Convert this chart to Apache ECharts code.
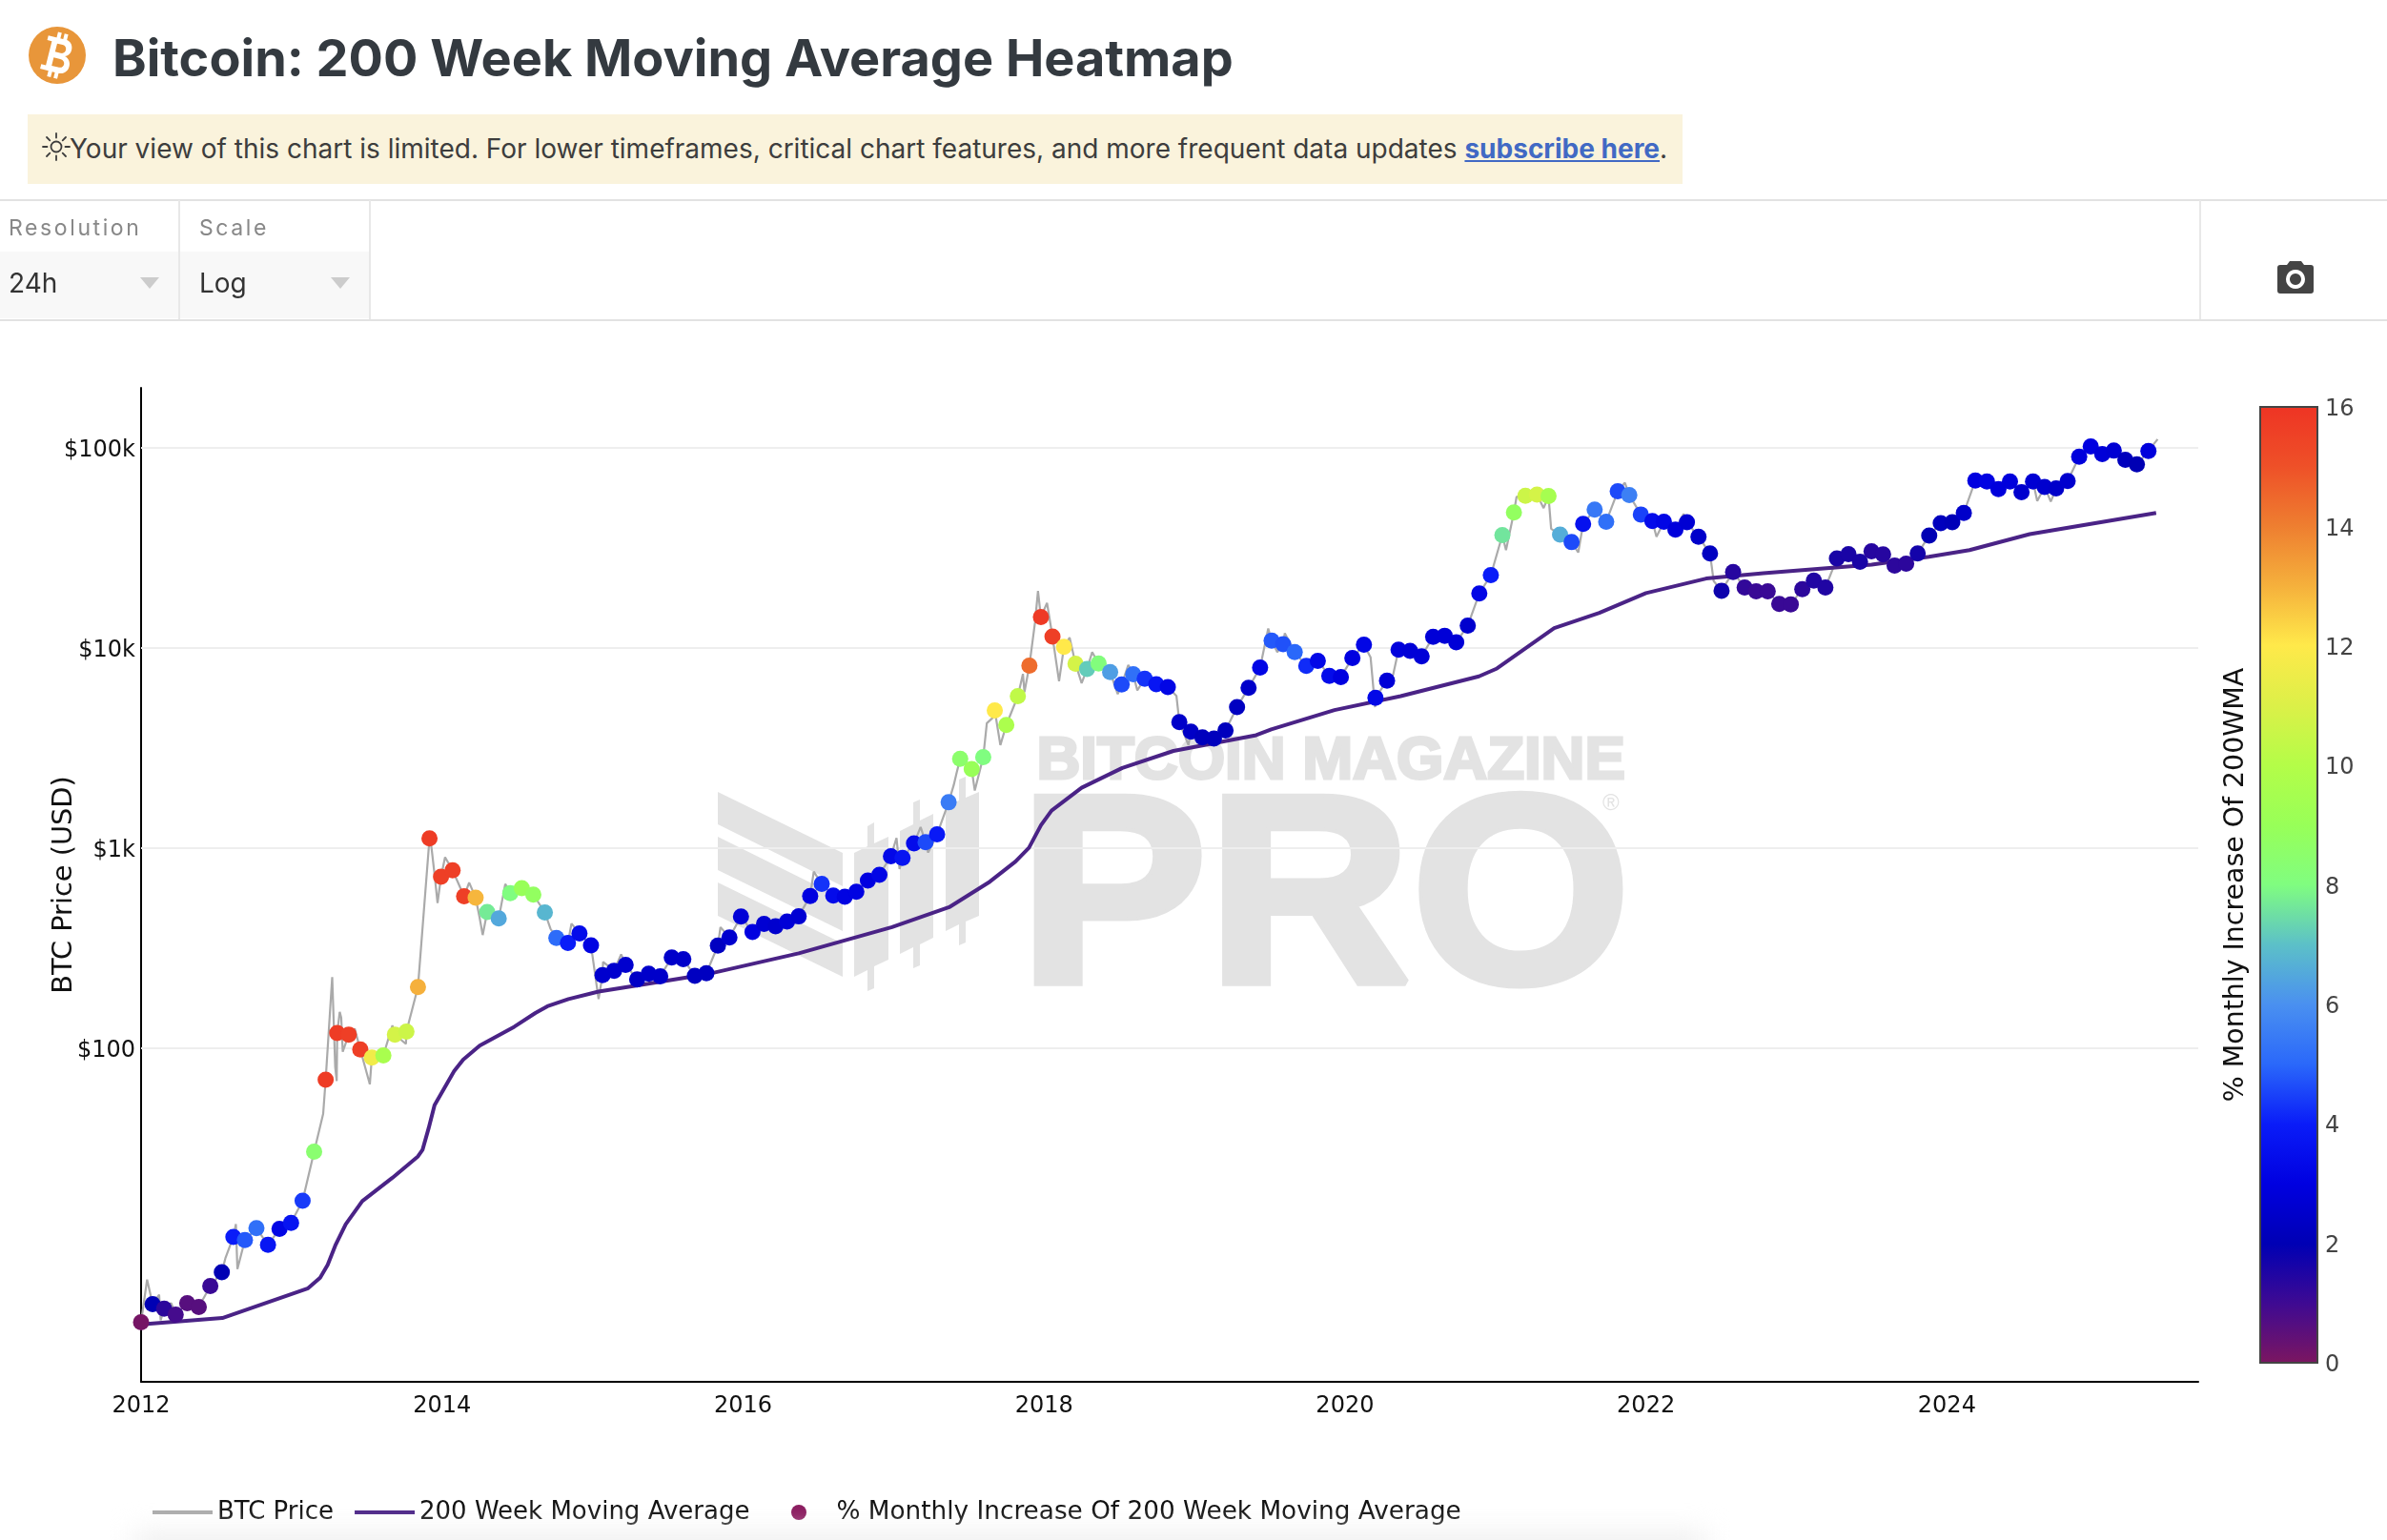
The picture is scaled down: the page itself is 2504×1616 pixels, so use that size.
<!DOCTYPE html>
<html>
<head>
<meta charset="utf-8">
<title>Bitcoin: 200 Week Moving Average Heatmap</title>
<script src="https://cdn.jsdelivr.net/npm/echarts@6/dist/echarts.min.js"></script>
<style>
    html, body { margin: 0; padding: 0; background: #fff; width: 2504px; height: 1616px; overflow: hidden; }
    #chart { position: absolute; left: 0; top: 0; width: 2504px; height: 1616px; }
    .abs { position: absolute; font-family: Inter, sans-serif; }
    #title { left: 118px; top: 29px; font-size: 54px; font-weight: 700; color: #343a40; white-space: nowrap; line-height: 64px; }
    #notice { left: 29px; top: 120px; width: 1736px; height: 73px; background: #faf3dc; }
    #noticeText { left: 73px; top: 136px; font-size: 28px; line-height: 40px; color: #3d3d3d; white-space: nowrap; }
    #noticeText a { color: #4169c4; font-weight: 700; text-decoration: underline; }
    .hline { left: 0; width: 2504px; height: 2px; background: #e2e2e2; }
    .vline { top: 210px; width: 2px; height: 125px; background: #e8e8e8; }
    .sel { top: 264px; height: 70px; background: #f8f8f8; }
    .lab { top: 225px; font-size: 23px; color: #888; letter-spacing: 2.6px; }
    .val { top: 280px; font-size: 28px; color: #333; }
    .tri { top: 291px; width: 0; height: 0; border-left: 10px solid transparent; border-right: 10px solid transparent; border-top: 12px solid #ccc; }
    #fade { left: 140px; top: 1608px; width: 1650px; height: 30px; background: #efefef; filter: blur(14px); }
</style>
</head>
<body>
<div id="chart"></div>

<svg class="abs" style="left:29px;top:27px" width="62" height="62" viewBox="-31 -31 62 62">
    <circle r="30" fill="#e8963a"></circle>
    <g transform="rotate(14)" fill="#fff">
        <path fill-rule="evenodd" d="M-14,-18 H5 C15,-18 16,-3 8,-1 C18,1 18,18 5,18 H-14 V13 H-9 V-13 H-14 Z M-3,-12 V-3 H3 C9,-3 9,-12 3,-12 Z M-3,3 V12 H4 C11,12 11,3 4,3 Z"></path>
        <rect x="-5" y="-24" width="4" height="7"></rect>
        <rect x="2" y="-24" width="4" height="7"></rect>
        <rect x="-5" y="17" width="4" height="7"></rect>
        <rect x="2" y="17" width="4" height="7"></rect>
    </g>
</svg>
<div class="abs" id="title">Bitcoin: 200 Week Moving Average Heatmap</div>
<div class="abs" id="notice"></div>
<svg class="abs" style="left:44px;top:139px" width="30" height="30" viewBox="-15 -15 30 30" stroke="#3d3d3d" stroke-width="1.8" fill="none" stroke-linecap="round">
    <circle r="5.5"></circle>
    <path d="M0,-9.5V-14M0,9.5V14M-9.5,0H-14M9.5,0H14M-6.7,-6.7L-10,-10M6.7,-6.7L10,-10M-6.7,6.7L-10,10M6.7,6.7L10,10"></path>
</svg>
<div class="abs" id="noticeText">Your view of this chart is limited. For lower timeframes, critical chart features, and more frequent data updates <a>subscribe here</a>.</div>

<div class="abs hline" style="top:209px"></div>
<div class="abs hline" style="top:335px"></div>
<div class="abs sel" style="left:0;width:187px"></div>
<div class="abs sel" style="left:189px;width:198px"></div>
<div class="abs vline" style="left:187px"></div>
<div class="abs vline" style="left:387px"></div>
<div class="abs vline" style="left:2307px"></div>
<div class="abs lab" style="left:9px">Resolution</div>
<div class="abs lab" style="left:209px">Scale</div>
<div class="abs val" style="left:9px">24h</div>
<div class="abs val" style="left:209px">Log</div>
<div class="abs tri" style="left:147px"></div>
<div class="abs tri" style="left:347px"></div>
<svg class="abs" style="left:2388px;top:274px" width="40" height="36" viewBox="0 0 40 36">
    <path fill="#444" fill-rule="evenodd" d="M4,4 H11 L14,0 H26 L29,4 H36 Q39,4 39,7 V31 Q39,34 36,34 H4 Q1,34 1,31 V7 Q1,4 4,4 Z M20,9 A10,10 0 1 0 20.01,9 Z M20,13 A6,6 0 1 1 19.99,13 Z"></path>
</svg>
<div class="abs" id="fade"></div>

<script>
// every 28 days from 2012-01-01
var dotPrice = [
    4.27, 5.26, 4.99, 4.66, 5.32, 5.09, 6.47, 7.6, 11.4, 11.0,
    12.6, 10.4, 12.5, 13.4, 17.3, 30.4, 69.6, 119, 117, 98.6,
    89.8, 92, 117, 121, 202, 1119, 720, 775, 575, 566,
    480, 445, 595, 631, 586, 477, 356, 336, 375, 327,
    232, 244, 261, 221, 236, 229, 284, 279, 230, 237,
    326, 358, 455, 381, 418, 407, 430, 456, 577, 663,
    579, 572, 605, 689, 736, 912, 893, 1056, 1070, 1173,
    1696, 2794, 2484, 2851, 4883, 4130, 5754, 8180, 14290, 11430,
    10160, 8360, 7870, 8384, 7586, 6577, 7396, 7030, 6607, 6383,
    4266, 3828, 3581, 3534, 3873, 5070, 6326, 8000, 10910, 10470,
    9550, 8150, 8640, 7270, 7170, 8930, 10410, 5650, 6870, 9820,
    9680, 9100, 11400, 11530, 10680, 12970, 18750, 23170, 36730, 47640,
    57810, 58480, 57540, 36900, 33880, 41790, 49200, 42850, 60810, 58210,
    46560, 43130, 42850, 39120, 42560, 36050, 29720, 19360, 24040, 20090,
    19230, 19230, 16630, 16560, 19720, 21780, 20090, 28050, 29510, 27040,
    30480, 29400, 25880, 26420, 29720, 36560, 42170, 42560, 47420, 68870,
    68080, 62370, 68080, 60120, 68080, 63970, 62810, 68390, 90570, 101900,
    93330, 97100, 87300, 82990, 96800
];
var dotPct = [
    0.1, 2, 1.3, 0.9, 0.6, 0.6, 1.1, 2, 4, 4.8,
    5.2, 3.8, 3.2, 3.7, 4.4, 8.4, 15.7, 15.7, 15.6, 15.6,
    11.6, 9.6, 10.8, 10.6, 13, 15.7, 15.6, 15.6, 15.6, 12.9,
    7.7, 6.5, 8, 9, 8.8, 6.8, 5.1, 4, 3.4, 3.1,
    2.6, 2.6, 2.6, 2.4, 2.5, 2.5, 2.5, 2.5, 2.3, 2.3,
    2.3, 2.6, 2.8, 3, 2.7, 2.6, 2.8, 2.7, 3, 4.3,
    3.4, 3.1, 3.1, 3, 3.2, 3.3, 3.7, 3.4, 4.6, 3.9,
    5.5, 8.5, 9, 8, 12, 9.7, 10.3, 14.4, 15.8, 15.6,
    12, 10.8, 7.2, 8.1, 6.3, 4.6, 5.2, 4.3, 3.8, 3.2,
    2.5, 2.4, 2.2, 2.2, 2.2, 2.3, 2.5, 3.2, 4.8, 4.7,
    5, 4.2, 3.3, 3.4, 3, 3, 3.2, 3.3, 2.8, 2.9,
    2.8, 2.8, 2.8, 2.8, 2.8, 2.6, 3.2, 4, 7.6, 8.8,
    10.6, 10.8, 9.5, 6.6, 4.6, 3.6, 5.4, 5.2, 4.6, 5.6,
    4.5, 3.4, 3.2, 2.9, 2.7, 2.5, 2.3, 1.8, 1.4, 1.2,
    1.1, 1.1, 1.1, 1.1, 1.3, 1.5, 1.5, 1.6, 1.6, 1.6,
    1.4, 1.4, 1.3, 1.3, 1.7, 2, 2.2, 2.1, 2.5, 3,
    3.1, 2.9, 2.9, 2.6, 2.7, 2.6, 2.5, 2.6, 2.9, 3,
    2.8, 2.7, 2.2, 2, 2.9
];
// highs and lows of the price line that fall between the dots
var swingYears = [
    2012.04, 2012.12, 2012.13, 2012.20, 2012.56, 2012.63, 2012.64, 2013.21, 2013.27, 2013.29,
    2013.30, 2013.32, 2013.33, 2013.34, 2013.42, 2013.52, 2013.67, 2013.76, 2013.93, 2013.95,
    2013.97, 2014.02, 2014.18, 2014.25, 2014.27, 2014.42, 2014.72, 2014.86, 2015.04, 2015.07,
    2015.19, 2015.85, 2016.47, 2017.02, 2017.04, 2017.18, 2017.23, 2017.40, 2017.42, 2017.54,
    2017.62, 2017.66, 2017.71, 2017.86, 2017.87, 2017.94, 2017.96, 2018.02, 2018.10, 2018.17,
    2018.25, 2018.32, 2018.49, 2018.56, 2018.62, 2018.88, 2018.96, 2019.49, 2019.55, 2019.60,
    2020.17, 2020.20, 2020.32, 2021.07, 2021.14, 2021.32, 2021.37, 2021.55, 2021.86, 2022.07,
    2022.25, 2022.45, 2024.60, 2024.69, 2025.40
];
var swingPrice = [
    6.97, 5.86, 4.36, 5.32, 8.9, 13.2, 7.87, 47, 227, 80.6,
    68.5, 152, 142, 96, 125, 66, 130, 105, 1004, 741,
    532, 901, 673, 448, 368, 662, 396, 420, 176, 270,
    295, 403, 764, 1125, 787, 1275, 951, 2065, 2393, 1941,
    4217, 4486, 3275, 7430, 6026, 13400, 19320, 16830, 6823, 11290,
    6680, 9550, 5888, 8240, 6150, 5770, 3275, 12530, 9550, 11880,
    9000, 5070, 7360, 30900, 57000, 50100, 39500, 30060, 67140, 36050,
    46880, 21630, 54300, 54000, 110700
];
var wmaYears = [
    2012.00, 2012.54, 2013.11, 2013.19, 2013.24, 2013.29, 2013.36, 2013.47, 2013.67, 2013.84,
    2013.87, 2013.91, 2013.95, 2014.08, 2014.14, 2014.25, 2014.48, 2014.62, 2014.70, 2014.84,
    2015.04, 2015.37, 2015.78, 2016.37, 2016.99, 2017.37, 2017.64, 2017.81, 2017.90, 2017.98,
    2018.05, 2018.25, 2018.52, 2018.86, 2019.41, 2019.51, 2019.93, 2020.37, 2020.89, 2021.01,
    2021.39, 2021.69, 2022.00, 2022.40, 2022.78, 2023.50, 2023.88, 2024.15, 2024.55, 2025.39
];
var wmaValues = [
    4.16, 4.48, 6.31, 7.13, 8.26, 10.3, 13.2, 17.2, 22.5, 28.8,
    31, 39.6, 51.9, 76.8, 87.7, 103, 128, 150, 162, 176,
    192, 210, 236, 298, 403, 507, 680, 857, 1004, 1303,
    1541, 2005, 2518, 3062, 3673, 3926, 4900, 5754, 7223, 7910,
    12590, 15000, 18830, 22280, 23710, 26120, 28650, 30900, 37150, 47420
];
var yearTicks = [2012, 2014, 2016, 2018, 2020, 2022, 2024];
var priceTicks = [100, 1000, 10000, 100000];
var heatColors = [
    '#7c1660', '#3f0a92', '#0000b4', '#0000e0', '#0a1cf8', '#2a68fa', '#4a90f0', '#5cc0c8', '#80fd80',
    '#98ff58', '#b4fd48', '#dcf048', '#ffe94a', '#f5b03c', '#ee7e30', '#ee5028', '#ee3424'
];

var weekStep = 28 / 365.25;
var dots = [];
var priceLine = [];
var wmaLine = [];
dotPrice.forEach(function(p, i){
    var yr = 2012 + i * weekStep;
    dots.push([yr, p, dotPct[i]]);
    priceLine.push([yr, p]);
});
swingYears.forEach(function(yr, i){
    priceLine.push([yr, swingPrice[i]]);
});
priceLine.sort(function(a, b){ return a[0] - b[0]; });
wmaYears.forEach(function(yr, i){
    wmaLine.push([yr, wmaValues[i]]);
});

function priceLabel(v){
    if(v >= 1000){
        return '$' + Math.round(v / 1000) + 'k';
    }
    return '$' + Math.round(v);
}

function logoShapes(){
    var wm = '#e3e3e3';
    var polys = [
        [[753, 831], [884, 895], [884, 930], [753, 865]],
        [[753, 878], [884, 943], [884, 977], [753, 913]],
        [[753, 926], [884, 990], [884, 1025], [753, 961]],
        [[896, 895], [910, 888], [910, 867], [917, 863], [917, 885], [932, 878], [932, 1007], [917, 1014], [917, 1037], [910, 1040], [910, 1018], [896, 1025]],
        [[944, 872], [958, 865], [958, 842], [965, 839], [965, 861], [979, 854], [979, 984], [965, 991], [965, 1013], [958, 1016], [958, 994], [944, 1001]],
        [[992, 847], [1006, 840], [1006, 818], [1013, 815], [1013, 837], [1027, 831], [1027, 961], [1013, 967], [1013, 989], [1006, 992], [1006, 970], [992, 977]]
    ];
    var out = polys.map(function(pts){
        return {type: 'polygon', silent: true, z: -1, shape: {points: pts}, style: {fill: wm}};
    });
    out.push({type: 'text', silent: true, z: -1, left: 1086, top: 766, style: {
        text: 'BITCOIN MAGAZINE', fill: wm, stroke: wm, lineWidth: 3, font: 'bold 63.5px "Liberation Sans"'
    }});
    out.push({type: 'text', silent: true, z: -1, x: 1069, y: 812, scaleX: 1.05, style: {
        text: 'PRO', fill: wm, stroke: wm, lineWidth: 8, font: 'bold 282px "Liberation Sans"'
    }});
    out.push({type: 'text', silent: true, z: -1, left: 1681, top: 831, style: {
        text: '\u00ae', fill: wm, font: '24px "Liberation Sans"'
    }});
    return out;
}

function drawChart(){
    var chart = echarts.init(document.getElementById('chart'), null, {renderer: 'canvas'});
    var font = '"DejaVu Sans"';
    var barStops = heatColors.map(function(c, i){
        return {offset: 1 - i / 16, color: c};
    }).reverse();
    var option = {
        animation: false,
        backgroundColor: 'transparent',
        graphic: logoShapes(),
        grid: [
            {left: 148, top: 407, width: 2158, height: 1043},
            {
                left: 2371, top: 427, width: 60, height: 1003, show: true,
                backgroundColor: new echarts.graphic.LinearGradient(0, 0, 0, 1, barStops),
                borderColor: '#444', borderWidth: 2
            }
        ],
        xAxis: [
            {
                type: 'value', min: 2012, max: 2025.67, interval: 2, gridIndex: 0,
                axisLine: {onZero: false, lineStyle: {color: '#000', width: 2}},
                axisTick: {show: false},
                splitLine: {show: false},
                axisLabel: {
                    color: '#111', fontFamily: font, fontSize: 24, margin: 14,
                    customValues: yearTicks,
                    formatter: function(v){ return String(v); }
                }
            },
            {type: 'value', gridIndex: 1, min: 0, max: 1, show: false}
        ],
        yAxis: [
            {
                type: 'log', logBase: 10, min: 2.15, max: 200000, gridIndex: 0,
                name: 'BTC Price (USD)', nameLocation: 'middle', nameGap: 66, nameMoveOverlap: false,
                nameTextStyle: {color: '#111', fontFamily: font, fontSize: 28.8},
                axisLine: {show: true, onZero: false, lineStyle: {color: '#000', width: 2}},
                axisTick: {show: false},
                splitLine: {show: false},
                axisLabel: {
                    color: '#111', fontFamily: font, fontSize: 24, margin: 6,
                    verticalAlign: 'top', lineHeight: 6,
                    customValues: priceTicks,
                    formatter: priceLabel
                }
            },
            {
                type: 'value', gridIndex: 1, min: 0, max: 16, interval: 2, position: 'right',
                name: '% Monthly Increase Of 200WMA', nameLocation: 'middle', nameGap: -99, nameRotate: 90, nameMoveOverlap: false,
                nameTextStyle: {color: '#111', fontFamily: font, fontSize: 28.4},
                axisLine: {show: false},
                axisTick: {show: false},
                splitLine: {show: false},
                axisLabel: {color: '#444', fontFamily: font, fontSize: 24, margin: 8, verticalAlign: 'top', lineHeight: 6}
            }
        ],
        visualMap: {
            show: false, type: 'continuous', seriesIndex: 2, dimension: 2,
            min: 0, max: 16, inRange: {color: heatColors}
        },
        legend: [
            {
                left: 160, top: 1574, padding: 0, itemWidth: 63, itemHeight: 4, itemGap: 22,
                textStyle: {color: '#111', fontFamily: font, fontSize: 26},
                data: [
                    {name: 'BTC Price', icon: 'rect'},
                    {name: '200 Week Moving Average', icon: 'rect'}
                ]
            },
            {
                left: 830, top: 1574, padding: 0, itemWidth: 69, itemHeight: 16,
                textStyle: {color: '#111', fontFamily: font, fontSize: 26.3},
                data: [{name: '% Monthly Increase Of 200 Week Moving Average', icon: 'circle'}]
            }
        ],
        series: [
            {
                name: 'BTC Price', type: 'line', xAxisIndex: 0, yAxisIndex: 0, data: priceLine,
                showSymbol: false, symbol: 'none', color: '#aaaaaa', lineStyle: {color: '#aaaaaa', width: 2.2}, z: 2,
                // only the labelled decades carry a grid line
                markLine: {
                    silent: true, symbol: 'none', z: 1, animation: false,
                    label: {show: false},
                    lineStyle: {color: '#eeeeee', width: 2, type: 'solid'},
                    data: priceTicks.map(function(v){ return {yAxis: v}; })
                }
            },
            {
                name: '200 Week Moving Average', type: 'line', xAxisIndex: 0, yAxisIndex: 0, data: wmaLine,
                showSymbol: false, symbol: 'none', color: '#4a2386', lineStyle: {color: '#4a2386', width: 4}, z: 3
            },
            {
                name: '% Monthly Increase Of 200 Week Moving Average', type: 'scatter', xAxisIndex: 0, yAxisIndex: 0,
                data: dots, symbolSize: 17, itemStyle: {color: '#8a1a5e', opacity: 1}, clip: false, z: 4
            }
        ]
    };
    chart.setOption(option);
}

drawChart();
</script>
</body>
</html>
